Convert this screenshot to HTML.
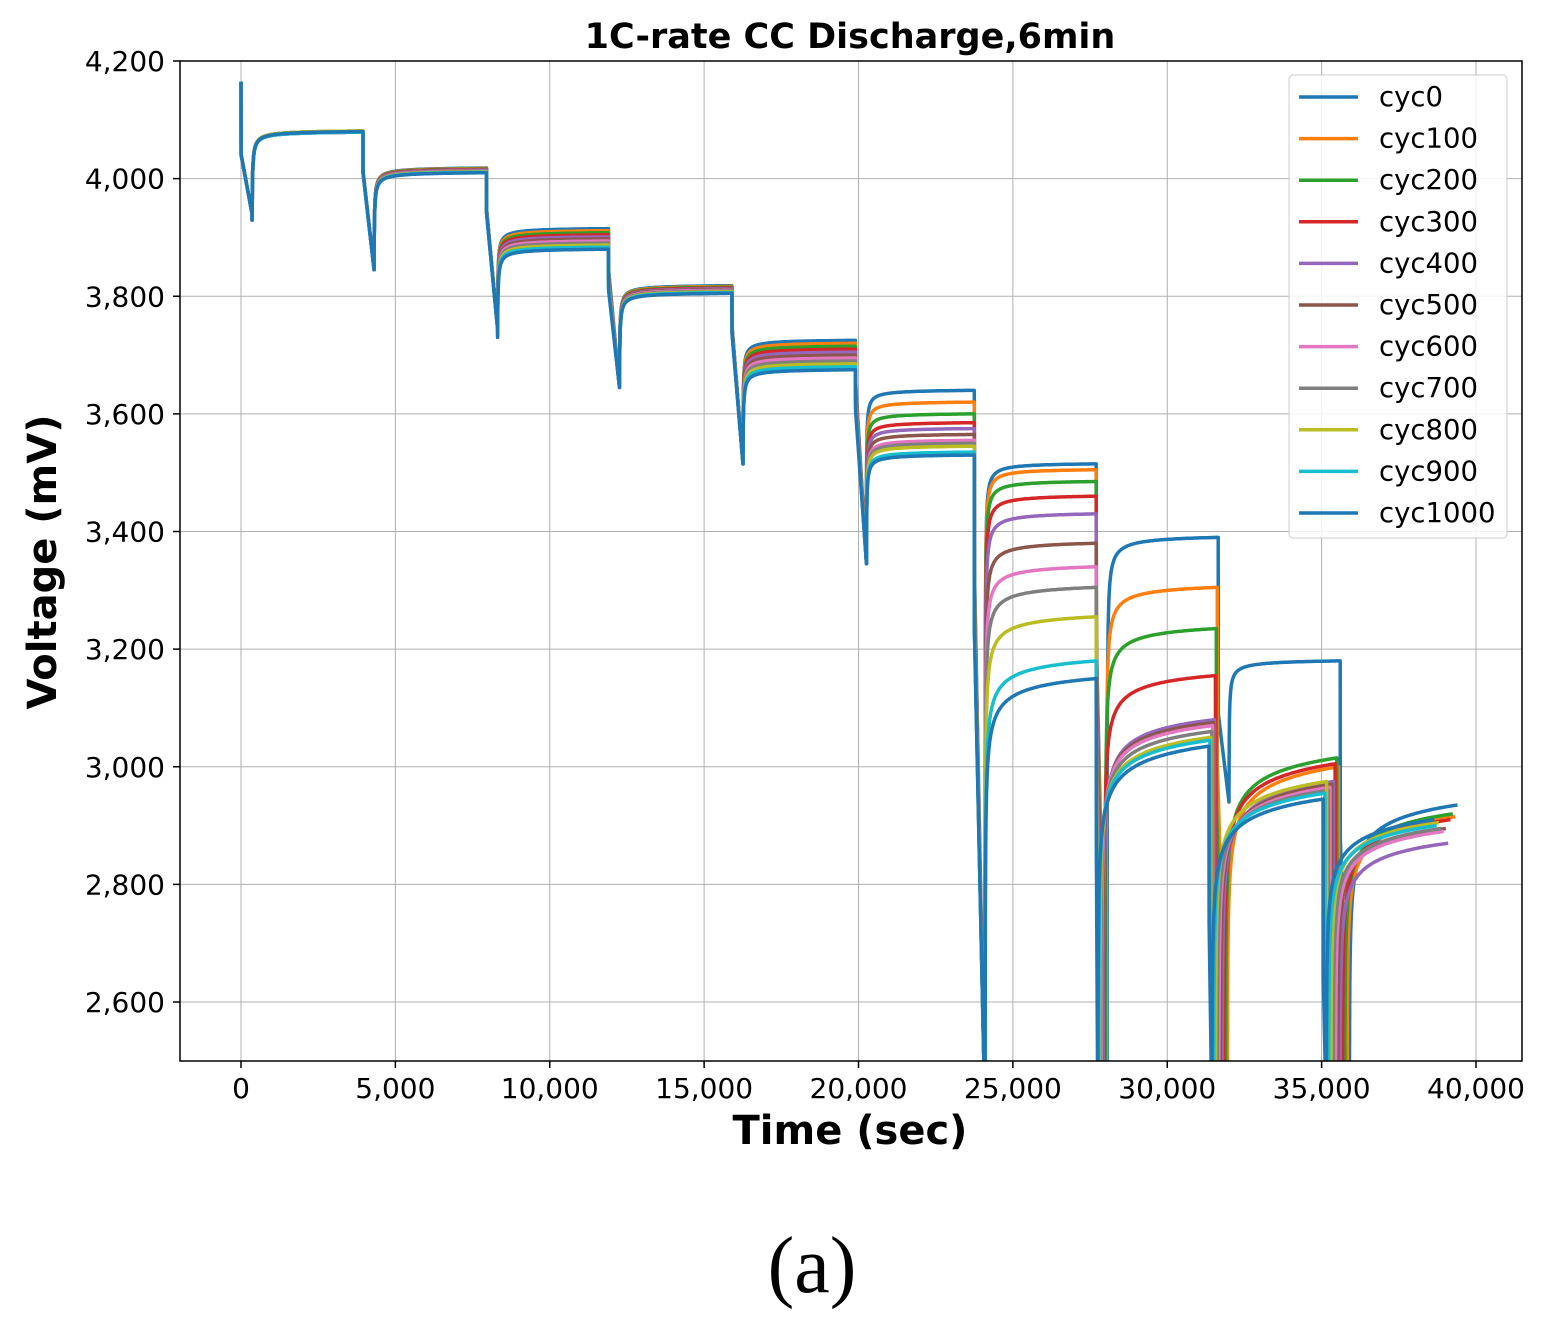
<!DOCTYPE html>
<html><head><meta charset="utf-8"><style>
html,body{margin:0;padding:0;background:#fff;}
svg{display:block;font-family:"DejaVu Sans","Liberation Sans",sans-serif;}
</style></head><body>
<svg id="s" width="1546" height="1328" viewBox="0 0 1546 1328" xmlns="http://www.w3.org/2000/svg">
<rect width="1546" height="1328" fill="#fff"/>
<defs><clipPath id="c"><rect x="180" y="61" width="1342" height="1000"/></clipPath></defs>
<g id="grid" stroke="#b0b0b0" stroke-width="1"></g>
<g id="lines" clip-path="url(#c)" fill="none" stroke-width="3.5" stroke-linejoin="round"></g>
<rect x="180" y="61" width="1342" height="1000" fill="none" stroke="#000" stroke-width="1.5"/>
<g id="ticks" stroke="#000" stroke-width="1.5"></g>
<g id="labels" font-size="28" fill="#000"></g>
<text x="850" y="48" font-size="35" font-weight="bold" text-anchor="middle">1C-rate CC Discharge,6min</text>
<text x="850" y="1144" font-size="40" font-weight="bold" text-anchor="middle">Time (sec)</text>
<text transform="translate(56,562) rotate(-90)" font-size="40" font-weight="bold" text-anchor="middle">Voltage (mV)</text>
<text x="812" y="1292" font-size="80" font-family="'Liberation Serif',serif" text-anchor="middle">(a)</text>
<g id="legend"><rect x="1289" y="75" width="218" height="463" rx="4" fill="#fff" fill-opacity="0.85" stroke="#ccc"/></g>
</svg>
<script>
const NS="http://www.w3.org/2000/svg";
function X(t){return 241+t*0.030875;}
function Y(v){return 61+(4200-v)*0.588125;}
function el(p,tag,a,txt){const e=document.createElementNS(NS,tag);for(const k in a)e.setAttribute(k,a[k]);if(txt!==undefined)e.textContent=txt;document.getElementById(p).appendChild(e);return e;}
for(let t=0;t<=40000;t+=5000){const x=X(t);el("grid","line",{x1:x,x2:x,y1:61,y2:1061});el("ticks","line",{x1:x,x2:x,y1:1061,y2:1068});
 el("labels","text",{x:x,y:1098,"text-anchor":"middle"},t.toLocaleString("en-US"));}
for(let v=2600;v<=4200;v+=200){const y=Y(v);el("grid","line",{x1:180,x2:1522,y1:y,y2:y});el("ticks","line",{x1:173,x2:180,y1:y,y2:y});
 el("labels","text",{x:165,y:y+10,"text-anchor":"end"},v.toLocaleString("en-US"));}
const cols=["#1f77b4","#ff7f0e","#2ca02c","#d62728","#9467bd","#8c564b","#e377c2","#7f7f7f","#bcbd22","#17becf","#1f77b4"];
function lerp(a,b,k){return a+(b-a)*k/10;}
const E5=[3640,3620,3600,3585,3575,3565,3555,3550,3545,3535,3530];
const E6=[3515,3505,3485,3460,3430,3380,3340,3305,3255,3180,3150];
const E7=[3390,3305,3235,3155,3080,3075,3070,3060,3050,3045,3035];
const E8=[3180,3000,3015,3005,2975,2970,2965,2960,2975,2955,2945];
const E9=[2935,2915,2920,2910,2870,2895,2890,2895,2905,2900,2910];
const dips=[3940,3845,3745,3645,3515,3345];
function rec(pts,R,Tn,Vj,Vend,tau,p){const D=Tn-R;const g=d=>Math.pow(1+d/tau,-p);const gD=g(D);
 for(let i=0;i<=140;i++){const d=D*Math.pow(i/140,2.4);const v=Vend-(Vend-Vj)*(g(d)-gD)/(1-gD);pts.push([R+d,v]);}}
for(let k=0;k<=10;k++){
 const ends=[4080+(k%3)-1,lerp(4018,4010,k),lerp(3915,3880,k),lerp(3818,3805,k),lerp(3725,3675,k),E5[k],E6[k],E7[k],E8[k],E9[k]];
 const T=[],R=[];
 T[0]=0;R[0]=360;
 const early=[3950,7950,11900,15900,19900];
 for(let n=1;n<=5;n++){T[n]=early[n-1];R[n]=T[n]+360;}
 T[6]=23750;R[6]=24100;
 T[7]=27700;R[7]=28050-30*k;
 T[8]=R[7]+3600;R[8]=T[8]+350-25*k;
 T[9]=R[8]+3600;R[9]=T[9]+300-20*k;
 const endT=R[9]+3500;
 const pts=[[0,4165],[8,4040]];
 pts.push([360,3940]);
 for(let n=0;n<=9;n++){
  const Tn=(n<9)?T[n+1]:endT;
  const Vend=ends[n];
  if(n<=5){rec(pts,R[n],Tn,Vend-150,Vend,10,0.7);}
  else if(n==8&&k==0){rec(pts,R[n],Tn,2940,Vend,5,0.6);}
  else{const p=0.25+Math.max(0,Vend-3000)/500*0.6;rec(pts,R[n],Tn,2400,Vend,3,p);}
  if(n<9){const m=n+1;const Vd=m<=5?dips[m]:2400;
   pts.push([T[m]+5,Vend-(m<=5?70:300)]);
   if(m==8&&k==0){pts.push([R[m],2940]);}else pts.push([R[m],Vd]);}
 }
 el("lines","polyline",{points:pts.map(q=>X(q[0]).toFixed(1)+","+Y(q[1]).toFixed(1)).join(" "),stroke:cols[k]});
 const y=97+k*41.6;
 el("legend","line",{x1:1299,x2:1358,y1:y,y2:y,stroke:cols[k],"stroke-width":3.5});
 el("legend","text",{x:1379,y:y+9,"font-size":27.5},"cyc"+(k*100));
}
</script>
</body></html>
